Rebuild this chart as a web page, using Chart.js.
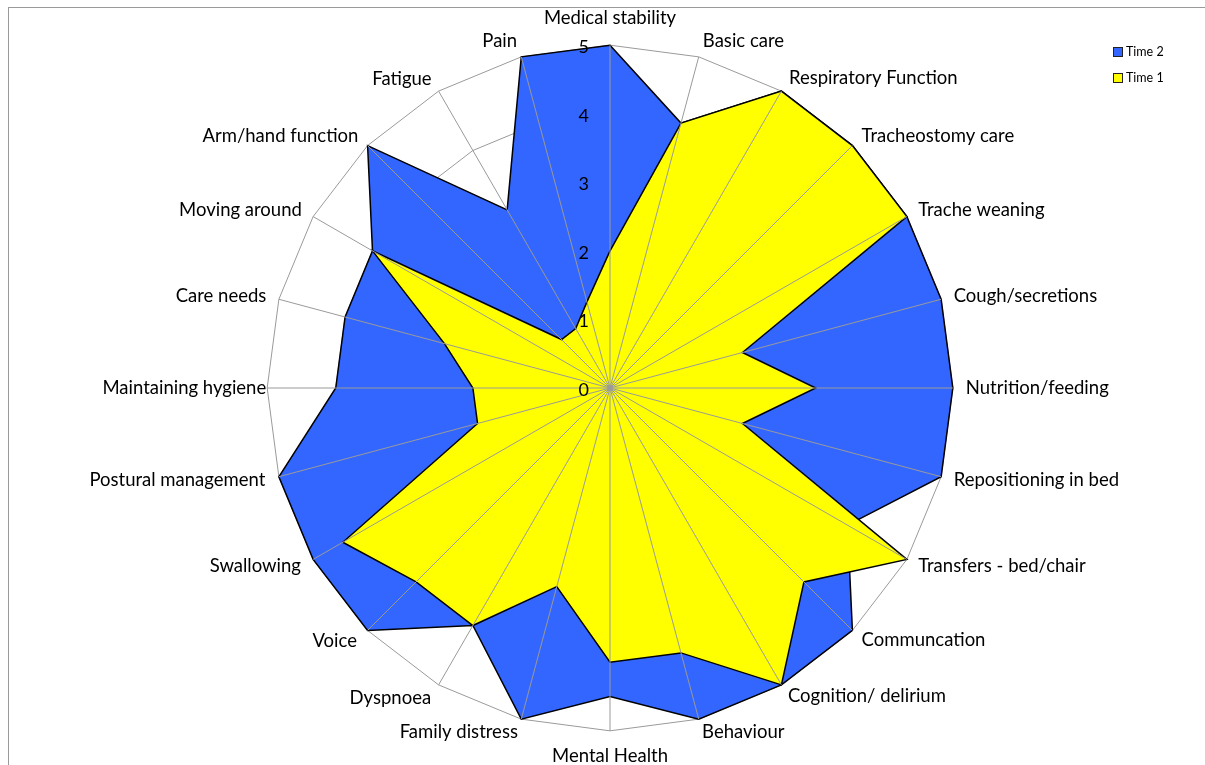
<!DOCTYPE html>
<html>
<head>
<meta charset="utf-8">
<script src="https://cdn.jsdelivr.net/npm/chart.js@4/dist/chart.umd.min.js"></script>
<style>
  html, body { margin: 0; padding: 0; background: #fff; overflow: hidden; }
  body { width: 1205px; height: 765px; position: relative; font-family: Lato, sans-serif; }
  #frame { position: absolute; left: 8px; top: 7px; width: 1400px; height: 900px; border: 1px solid #9a9a9a; }
  #wrap { position: absolute; left: 0; top: 0; width: 1205px; height: 765px; }
  #legend { position: absolute; left: 1113px; top: 44px; font-size: 12.5px; color: #000; }
  #legend .row { height: 26px; display: flex; align-items: flex-start; }
  #legend .box { width: 8px; height: 8px; border: 1px solid #222; margin-top: 3px; margin-right: 3px; }
</style>
</head>
<body>
<div id="frame"></div>
<div id="wrap"><canvas id="radar"></canvas></div>
<div id="legend"></div>
<script>
const categories = [
  "Medical stability", "Basic care", "Respiratory Function", "Tracheostomy care",
  "Trache weaning", "Cough/secretions", "Nutrition/feeding", "Repositioning in bed",
  "Transfers - bed/chair", "Communcation", "Cognition/ delirium", "Behaviour",
  "Mental Health", "Family distress", "Dyspnoea", "Voice", "Swallowing",
  "Postural management", "Maintaining hygiene", "Care needs", "Moving around",
  "Arm/hand function", "Fatigue", "Pain"
];
const time2 = [5, 4, 5, 5, 5, 5, 5, 5, 4, 5, 5, 5, 4.5, 5, 4, 5, 5, 5, 4, 4, 4, 5, 3, 5];
const time1 = [2, 4, 5, 5, 5, 2, 3, 2, 5, 4, 5, 4, 4, 3, 4, 4, 4.5, 2, 2, 2.5, 4, 1, 1, 1.3];
const valueTicks = [0, 1, 2, 3, 4, 5];

// gap between outer ring and each category label
const labelPad = [27, 16, 15, 13, 13, 13, 13, 13, 13, 13, 13, 13, 25, 13, 15, 15, 14, 14, 1, 13, 13, 13, 14, 16];

// spokes + value labels go on top of the filled areas
const spokesOnTop = {
  id: "spokesOnTop",
  afterDatasetsDraw(chart) {
    const r = chart.scales.r;
    const ctx = chart.ctx;
    ctx.save();
    ctx.strokeStyle = "#9a9a9a";
    ctx.lineWidth = 1;
    categories.forEach((c, i) => {
      const p = r.getPointPositionForValue(i, r.max);
      ctx.beginPath();
      ctx.moveTo(r.xCenter, r.yCenter);
      ctx.lineTo(p.x, p.y);
      ctx.stroke();
    });
    ctx.fillStyle = "#000";
    ctx.font = "18px Lato";
    ctx.textAlign = "right";
    ctx.textBaseline = "middle";
    valueTicks.forEach((v) => {
      const p = r.getPointPositionForValue(0, v);
      ctx.fillText(String(v), r.xCenter - 21, p.y + 2);
    });
    ctx.restore();
  },
};

const chart = new Chart(document.getElementById("radar"), {
  type: "radar",
  data: {
    labels: categories,
    datasets: [
      {
        label: "Time 1",
        data: time1,
        backgroundColor: "#FFFF00",
        borderColor: "#000",
        borderWidth: 1.5,
        pointRadius: 0,
        fill: true,
        tension: 0,
      },
      {
        label: "Time 2",
        data: time2,
        backgroundColor: "#3366FF",
        borderColor: "#000",
        borderWidth: 1.5,
        pointRadius: 0,
        fill: true,
        tension: 0,
      },
    ],
  },
  options: {
    responsive: true,
    maintainAspectRatio: false,
    animation: false,
    layout: { padding: { left: 15, top: 17, bottom: 8, right: 0 } },
    plugins: {
      legend: { display: false },
      tooltip: { enabled: false },
    },
    scales: {
      r: {
        min: 0,
        max: 5,
        ticks: { display: false, stepSize: 1 },
        grid: { color: "#9a9a9a", lineWidth: 1 },
        angleLines: { display: false },
        pointLabels: {
          color: "#000",
          font: { family: "Lato", size: 18.5, lineHeight: 0.01 },
          padding: (ctx) => labelPad[ctx.index],
        },
      },
    },
  },
  plugins: [spokesOnTop],
});

// legend, Time 2 first like the original
const legend = document.getElementById("legend");
chart.data.datasets.slice().reverse().forEach((ds) => {
  const row = document.createElement("div");
  row.className = "row";
  const box = document.createElement("span");
  box.className = "box";
  box.style.background = ds.backgroundColor;
  const txt = document.createElement("span");
  txt.textContent = ds.label;
  row.appendChild(box);
  row.appendChild(txt);
  legend.appendChild(row);
});
</script>
</body>
</html>
